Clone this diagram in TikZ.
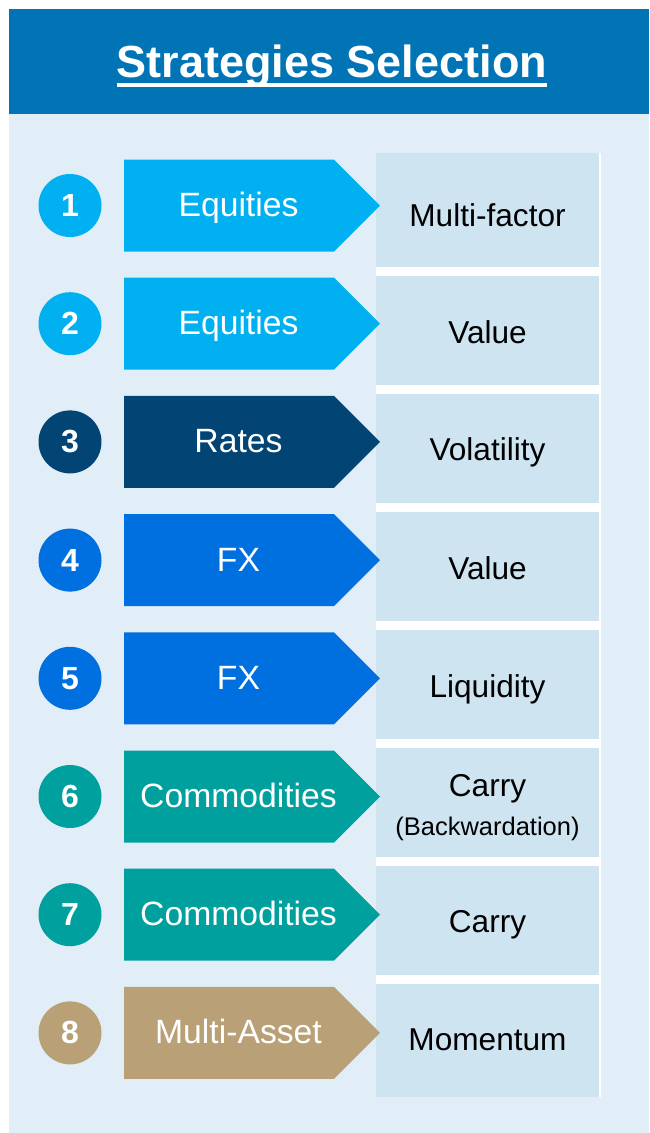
\documentclass[tikz,border=0pt]{standalone}
\usepackage{fontspec}
\setmainfont{Liberation Sans}
\definecolor{headc}{RGB}{0,116,181}
\definecolor{panelc}{RGB}{225,238,247}
\definecolor{boxc}{RGB}{207,228,241}
\definecolor{eqc}{RGB}{0,176,240}
\definecolor{ratc}{RGB}{2,68,116}
\definecolor{fxc}{RGB}{0,111,224}
\definecolor{comc}{RGB}{0,160,158}
\definecolor{mac}{RGB}{185,160,119}
\tikzset{
  circ/.style={circle, minimum size=63pt, inner sep=0pt, text=white, font=\fontsize{32}{34}\selectfont\bfseries},
  arrlab/.style={inner sep=0pt, anchor=base, text=white, font=\fontsize{33.7}{36}\selectfont},
  stratlab/.style={inner sep=0pt, anchor=base, text=black, font=\fontsize{31.6}{34}\selectfont},
  sublab/.style={inner sep=0pt, anchor=base, text=black, font=\fontsize{25.5}{28}\selectfont},
  titlelab/.style={inner sep=0pt, anchor=base, text=white, font=\fontsize{45}{48}\selectfont\bfseries}
}
\begin{document}
\begin{tikzpicture}[x=1pt,y=-1pt]
\useasboundingbox (0,0) rectangle (649,1133);
\fill[white] (0,0) rectangle (649,1133);
% panel and header
\fill[panelc] (9,9) rectangle (649,1133);
\fill[headc] (9,9) rectangle (649,114);
\node[titlelab] (title) at (332,77.3) {Strategies Selection};
\draw[white, line width=3.5pt] ([yshift=-7.8pt]title.base west) -- ([yshift=-7.8pt]title.base east);
% strategy boxes on white backdrop
\fill[white] (376,153) rectangle (601,1097);
\foreach \i in {1,...,8}{
  \pgfmathsetmacro\bt{ifthenelse(\i==1,153,276+118*(\i-2))}
  \pgfmathsetmacro\bb{ifthenelse(\i==8,1097,267+118*(\i-1))}
  \fill[boxc] (376,\bt) rectangle (598.5,\bb);
}
% rows
\foreach \i/\lab/\col/\strat/\off in {1/Equities/eqc/Multi-factor/20.5, 2/Equities/eqc/Value/19.6, 3/Rates/ratc/Volatility/19, 4/FX/fxc/Value/19, 5/FX/fxc/Liquidity/19, 6/Commodities/comc/Carry/-0.5, 7/Commodities/comc/Carry/17.7, 8/Multi-Asset/mac/Momentum/18}{
  \pgfmathsetmacro\r{205.5+118.2*(\i-1)}
  \node[circ, fill=\col] (c\i) at (70,\r) {\i};
  \fill[\col] (124,\r-46) -- (334,\r-46) -- (380,\r) -- (334,\r+46) -- (124,\r+46) -- cycle;
  \node[arrlab] (a\i) at (238.5,\r+11) {\lab};
  \node[stratlab] (s\i) at (487.5,\r+\off) {\strat};
}
\node[sublab] (s6b) at (487.5,835) {(Backwardation)};
\end{tikzpicture}
\end{document}
